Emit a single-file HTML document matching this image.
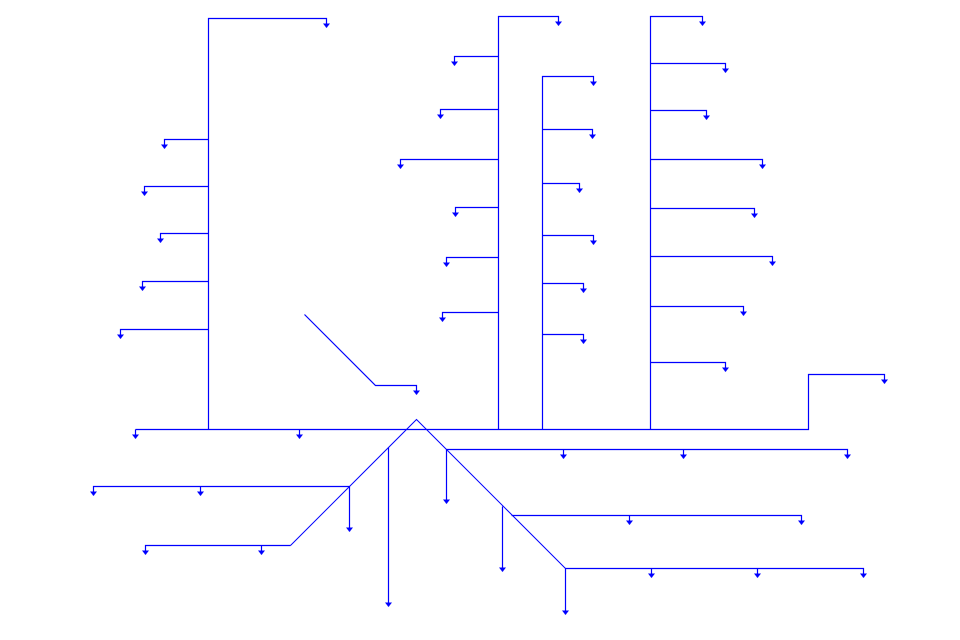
<!DOCTYPE html>
<html><head><style>html,body{margin:0;padding:0;background:#fff}svg{display:block}</style></head>
<body>
<svg width="960" height="640" viewBox="0 0 960 640" xmlns="http://www.w3.org/2000/svg">
<defs>
<marker id="a" markerWidth="8" markerHeight="6" refX="4" refY="5" orient="0" markerUnits="userSpaceOnUse" viewBox="0 0 8 6">
<path d="M0.5,1 L7.5,1 L4,5.5 Z" fill="#0000ff"/></marker>
</defs>
<g stroke="#0000ff" stroke-width="1.2" fill="none" transform="translate(0.5,0.5)">
<path d="M208,429 V18 H326 V27" marker-end="url(#a)"/>
<path d="M208,139 H164 V148" marker-end="url(#a)"/>
<path d="M208,186 H144 V195" marker-end="url(#a)"/>
<path d="M208,233 H160 V242" marker-end="url(#a)"/>
<path d="M208,281 H142 V290" marker-end="url(#a)"/>
<path d="M208,329 H120 V338" marker-end="url(#a)"/>
<path d="M304,314 L375,385 H416 V394" marker-end="url(#a)"/>
<path d="M498,429 V16 H558 V25" marker-end="url(#a)"/>
<path d="M498,56 H454 V65" marker-end="url(#a)"/>
<path d="M498,109 H440 V118" marker-end="url(#a)"/>
<path d="M498,159 H400 V168" marker-end="url(#a)"/>
<path d="M498,207 H455 V216" marker-end="url(#a)"/>
<path d="M498,257 H446 V266" marker-end="url(#a)"/>
<path d="M498,312 H442 V321" marker-end="url(#a)"/>
<path d="M542,429 V76 H593 V85" marker-end="url(#a)"/>
<path d="M542,129 H592 V138" marker-end="url(#a)"/>
<path d="M542,183 H579 V192" marker-end="url(#a)"/>
<path d="M542,235 H593 V244" marker-end="url(#a)"/>
<path d="M542,283 H583 V292" marker-end="url(#a)"/>
<path d="M542,334 H583 V343" marker-end="url(#a)"/>
<path d="M650,429 V16 H702 V25" marker-end="url(#a)"/>
<path d="M650,63 H725 V72" marker-end="url(#a)"/>
<path d="M650,110 H706 V119" marker-end="url(#a)"/>
<path d="M650,159 H762 V168" marker-end="url(#a)"/>
<path d="M650,208 H754 V217" marker-end="url(#a)"/>
<path d="M650,256 H772 V265" marker-end="url(#a)"/>
<path d="M650,306 H743 V315" marker-end="url(#a)"/>
<path d="M650,362 H725 V371" marker-end="url(#a)"/>
<path d="M135,429 H808 V374 H884 V383" marker-end="url(#a)"/>
<path d="M135,429 V438" marker-end="url(#a)"/>
<path d="M299,429 V438" marker-end="url(#a)"/>
<path d="M290,545 L416,419 L565,568" stroke-width="1"/>
<path d="M388,447 V606" marker-end="url(#a)"/>
<path d="M349,486 H93 V495" marker-end="url(#a)"/>
<path d="M200,486 V495" marker-end="url(#a)"/>
<path d="M349,486 V531" marker-end="url(#a)"/>
<path d="M290,545 H145 V554" marker-end="url(#a)"/>
<path d="M261,545 V554" marker-end="url(#a)"/>
<path d="M446,449 H847 V458" marker-end="url(#a)"/>
<path d="M563,449 V458" marker-end="url(#a)"/>
<path d="M683,449 V458" marker-end="url(#a)"/>
<path d="M446,449 V503" marker-end="url(#a)"/>
<path d="M511,515 H801 V524" marker-end="url(#a)"/>
<path d="M629,515 V524" marker-end="url(#a)"/>
<path d="M502,506 V571" marker-end="url(#a)"/>
<path d="M565,568 H863 V577" marker-end="url(#a)"/>
<path d="M651,568 V577" marker-end="url(#a)"/>
<path d="M757,568 V577" marker-end="url(#a)"/>
<path d="M565,568 V614" marker-end="url(#a)"/>
</g>
</svg>
</body></html>
